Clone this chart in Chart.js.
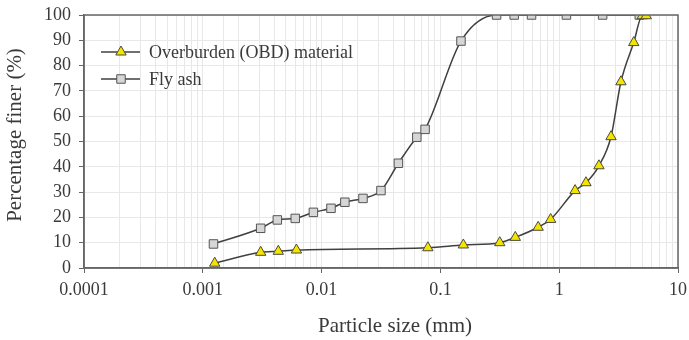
<!DOCTYPE html>
<html>
<head>
<meta charset="utf-8">
<script src="https://cdn.jsdelivr.net/npm/chart.js@4"></script>
<style>
  html, body { margin: 0; padding: 0; background: #fff; }
  #wrap { width: 689px; height: 340px; }
</style>
</head>
<body>
<div id="wrap"><canvas id="chart" width="689" height="340"></canvas></div>
<script>
// particle size (mm) and percentage finer (%)
const obdSize = [0.00126, 0.00307, 0.00432, 0.00614, 0.0784, 0.156, 0.316, 0.427, 0.665, 0.847, 1.36, 1.68, 2.16, 2.73, 3.31, 4.24, 5.0, 5.4];
const obdFiner = [1.9, 6.2, 6.6, 7.1, 8.0, 9.1, 10.0, 12.1, 16.1, 19.2, 30.6, 33.7, 40.4, 51.9, 73.6, 89.1, 99.7, 99.7];
const ashSize = [0.00123, 0.00307, 0.00424, 0.0060, 0.00853, 0.0120, 0.0157, 0.0223, 0.0316, 0.0443, 0.0633, 0.0743, 0.149, 0.297, 0.418, 0.585, 1.15, 2.32, 4.72];
const ashFiner = [9.5, 15.7, 19.0, 19.6, 22.0, 23.6, 26.0, 27.5, 30.6, 41.4, 51.7, 54.8, 89.7, 100, 100, 100, 100, 100, 100];
const xTickLabels = ['0.0001', '0.001', '0.01', '0.1', '1', '10'];
const yTicks = [0, 10, 20, 30, 40, 50, 60, 70, 80, 90, 100];
const xTitle = 'Particle size (mm)';
const yTitle = 'Percentage finer (%)';

const FONT = '"Liberation Serif", "Times New Roman", serif';
const TXT = '#3a3a3a';

const series = [
  { label: 'Overburden (OBD) material', x: obdSize, y: obdFiner, style: 'triangle', fill: '#f5e400', stroke: '#4a4a3a' },
  { label: 'Fly ash', x: ashSize, y: ashFiner, style: 'rect', fill: '#d6d6d6', stroke: '#555' }
];

const isDecade = v => Math.abs(Math.log10(v) - Math.round(Math.log10(v))) < 1e-6;

// box around plot, axis titles, legend inside plot
const frameLegend = {
  id: 'frameLegend',
  afterDatasetsDraw(chart) {
    const { ctx, chartArea: a } = chart;
    ctx.save();
    ctx.strokeStyle = '#666';
    ctx.lineWidth = 1.5;
    ctx.strokeRect(a.left, a.top, a.right - a.left, a.bottom - a.top);

    ctx.fillStyle = TXT;
    ctx.font = '21px ' + FONT;
    ctx.textAlign = 'center';
    ctx.textBaseline = 'middle';
    ctx.fillText(xTitle, 395, 326);
    ctx.save();
    ctx.translate(15, 135);
    ctx.rotate(-Math.PI / 2);
    ctx.fillText(yTitle, 0, 0);
    ctx.restore();

    ctx.textAlign = 'left';
    series.forEach((s, i) => {
      const y = 52 + i * 27;
      ctx.strokeStyle = '#404040';
      ctx.lineWidth = 1.5;
      ctx.beginPath();
      ctx.moveTo(101, y);
      ctx.lineTo(140, y);
      ctx.stroke();
      ctx.fillStyle = s.fill;
      ctx.strokeStyle = s.stroke;
      ctx.lineWidth = 1;
      Chart.helpers.drawPoint(ctx, { pointStyle: s.style, radius: 6, rotation: 0, borderWidth: 1 }, 121, y);
      ctx.fillStyle = TXT;
      ctx.font = '18px ' + FONT;
      ctx.textBaseline = 'middle';
      ctx.fillText(s.label, 149, y + 1);
    });
    ctx.restore();
  }
};

new Chart(document.getElementById('chart'), {
  type: 'line',
  data: {
    datasets: series.map(s => ({
      label: s.label,
      data: s.x.map((v, i) => ({ x: v, y: s.y[i] })),
      borderColor: '#404040',
      borderWidth: 1.5,
      cubicInterpolationMode: 'monotone',
      pointStyle: s.style,
      pointRadius: 6,
      pointBackgroundColor: s.fill,
      pointBorderColor: s.stroke,
      pointBorderWidth: 1,
      fill: false
    }))
  },
  options: {
    responsive: false,
    animation: false,
    layout: { padding: { top: 15, right: 11, left: 0, bottom: 0 } },
    plugins: { legend: { display: false }, tooltip: { enabled: false } },
    scales: {
      x: {
        type: 'logarithmic',
        min: 0.0001,
        max: 10,
        afterFit(scale) {
          scale.height = 72;
          scale.paddingLeft = 0;
          scale.paddingRight = 0;
        },
        ticks: {
          autoSkip: false,
          maxRotation: 0,
          color: TXT,
          font: { family: FONT, size: 18 },
          padding: 6,
          callback(v) {
            if (!isDecade(v)) return '';
            const idx = Math.round(Math.log10(v)) + 4;
            return xTickLabels[idx];
          }
        },
        grid: {
          color: '#e8e8e8',
          lineWidth: 1,
          tickLength: 5,
          tickColor: c => (c.tick && isDecade(c.tick.value)) ? '#666' : 'rgba(0,0,0,0)'
        },
        border: { color: '#666', width: 1.5 }
      },
      y: {
        min: 0,
        max: 100,
        afterFit(scale) {
          scale.width = 84;
          scale.paddingTop = 0;
          scale.paddingBottom = 0;
        },
        afterBuildTicks(scale) { scale.ticks = yTicks.map(v => ({ value: v })); },
        ticks: {
          color: TXT,
          font: { family: FONT, size: 18 },
          padding: 8
        },
        grid: { color: '#e8e8e8', tickLength: 5, tickColor: '#666' },
        border: { color: '#666', width: 1.5 }
      }
    }
  },
  plugins: [frameLegend]
});
</script>
</body>
</html>
